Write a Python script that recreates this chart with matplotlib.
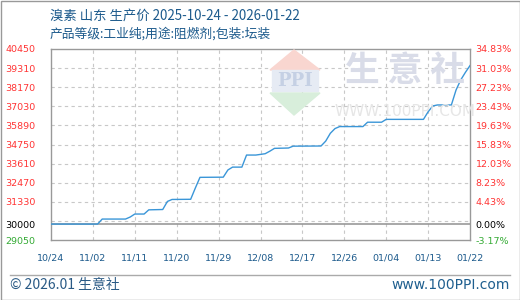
import numpy as np
import pandas as pd
import matplotlib
matplotlib.use('Agg')
import matplotlib.pyplot as plt
from matplotlib.patches import Polygon, Rectangle
from matplotlib.lines import Line2D

plt.rcParams['font.family'] = ['Noto Sans CJK SC', 'DejaVu Sans']

# data
title = '溴素 山东 生产价 2025-10-24 - 2026-01-22'
subtitle = '产品等级:工业纯;用途:阻燃剂;包装:坛装'
start_date = '2025-10-24'
day_offsets = [0, 10, 11, 16, 17, 18, 20, 21, 24, 25, 26, 30, 31, 32, 37, 38, 39,
               41, 42, 44, 45, 46, 47, 48, 51, 52, 58, 59, 60, 61, 62, 67, 68,
               71, 72, 80, 81, 82, 83, 86, 87, 88, 89, 90]
prices = [30000, 30000, 30300, 30300, 30420, 30600, 30600, 30850, 30870, 31350,
          31470, 31480, 32150, 32790, 32800, 33230, 33400, 33400, 34120, 34120,
          34160, 34200, 34350, 34520, 34540, 34650, 34660, 34950, 35420, 35700,
          35820, 35820, 36080, 36080, 36250, 36250, 36700, 37050, 37110, 37110,
          38000, 38600, 39050, 39460]
base_price = 30000
y_ticks = [29050, 30000, 31330, 32470, 33610, 34750, 35890, 37030, 38170, 39310, 40450]
x_tick_labels = ['10/24', '11/02', '11/11', '11/20', '11/29', '12/08', '12/17',
                 '12/26', '01/04', '01/13', '01/22']

dates = pd.to_datetime(start_date) + pd.to_timedelta(day_offsets, unit='D')
tick_dates = pd.to_datetime(start_date) + pd.to_timedelta(np.arange(0, 91, 9), unit='D')

dark_blue = '#1c5a8c'
red = '#ff3333'
green = '#33aa33'
grid_c = '#c8c8c8'

fig = plt.figure(figsize=(5.2, 3.0), dpi=100)
ax = fig.add_axes([51 / 520, 1 - 240 / 300, 419 / 520, 191 / 300])

ymin, ymax = y_ticks[0], y_ticks[-1]
ax.set_ylim(ymin, ymax)
ax.set_xlim(tick_dates[0], tick_dates[-1])

# grid
for g in np.arange(ymin, ymax + 1, 1140)[1:-1]:
    ax.axhline(g, color=grid_c, lw=0.8, ls=(0, (3, 3)), zorder=1)
for d in tick_dates[1:-1]:
    ax.axvline(d, color=grid_c, lw=0.8, ls=(0, (3, 3)), zorder=1)
ax.axhline(base_price, color='#999999', lw=1.2, zorder=2)


def fx(px):
    return px / 520


def fy(py):
    return 1 - py / 300


# watermark
fig.patches.append(Polygon([(fx(270), fy(70)), (fx(320), fy(70)), (fx(294), fy(50))],
                           closed=True, transform=fig.transFigure, color='#f9d6d0', zorder=0))
fig.patches.append(Rectangle((fx(272), fy(91)), fx(46), 21 / 300, transform=fig.transFigure,
                             color='#e6ebf4', zorder=0))
fig.patches.append(Polygon([(fx(270), fy(93)), (fx(320), fy(93)), (fx(294), fy(115))],
                           closed=True, transform=fig.transFigure, color='#d8eedb', zorder=0))
fig.text(fx(295), fy(81), 'PPI', ha='center', va='center', fontsize=13, color='#c5d0e4',
         family='DejaVu Serif', fontweight='bold', zorder=0)
fig.text(fx(405), fy(71), '生 意 社', ha='center', va='center', fontsize=25, color='#d9dce8',
         fontweight='bold', zorder=0)
fig.text(fx(405), fy(112), 'WWW.100PPI.COM', ha='center', va='center', fontsize=11,
         color='#e6e6e6', family='DejaVu Sans', zorder=0)
ax.set_facecolor('none')

ax.plot(dates, prices, color='#3a96d8', lw=1.0, zorder=3)

for s in ax.spines.values():
    s.set_color('#999999')
    s.set_linewidth(1.0)

ax.set_xticks(tick_dates)
ax.set_xticklabels(x_tick_labels, color=dark_blue, fontsize=6.8, family='DejaVu Sans')
ax.tick_params(axis='x', length=0, pad=10)

ax.set_yticks(y_ticks)
ax.set_yticklabels([str(v) for v in y_ticks], fontsize=6.8, family='DejaVu Sans')
ax.tick_params(axis='y', length=0, pad=11)

ax2 = ax.twinx()
ax2.set_ylim(ymin, ymax)
ax2.set_yticks(y_ticks)
pct = ['%.2f%%' % ((v - base_price) / base_price * 100) for v in y_ticks]
ax2.set_yticklabels(pct, fontsize=6.8, family='DejaVu Sans')
ax2.tick_params(axis='y', length=0, pad=4)
for s in ax2.spines.values():
    s.set_visible(False)

for axis in (ax, ax2):
    for lbl, v in zip(axis.get_yticklabels(), y_ticks):
        if v > base_price:
            lbl.set_color(red)
        elif v == base_price:
            lbl.set_color('black')
        else:
            lbl.set_color(green)

fig.text(fx(50), fy(16), title, fontsize=9.6, color=dark_blue, va='center', ha='left')
fig.text(fx(50), fy(34), subtitle, fontsize=9.2, color=dark_blue, va='center', ha='left')

# footer
fig.lines.append(Line2D([fx(10), fx(510)], [fy(275), fy(275)], transform=fig.transFigure,
                        color='#aaaaaa', lw=1))
fig.text(fx(10), fy(285), '© 2026.01 生意社', fontsize=10, color='#2a5a85', va='center', ha='left')
fig.text(fx(510), fy(285), 'www.100PPI.com', fontsize=10, color='#1f5f8f', va='center',
         ha='right', family='DejaVu Sans')

# outer border
fig.patches.append(Rectangle((0.5 / 520, 0.5 / 300), 519 / 520, 299 / 300, transform=fig.transFigure,
                             fill=False, edgecolor='#999999', lw=1.0))

fig.savefig('out.png', dpi=100)
